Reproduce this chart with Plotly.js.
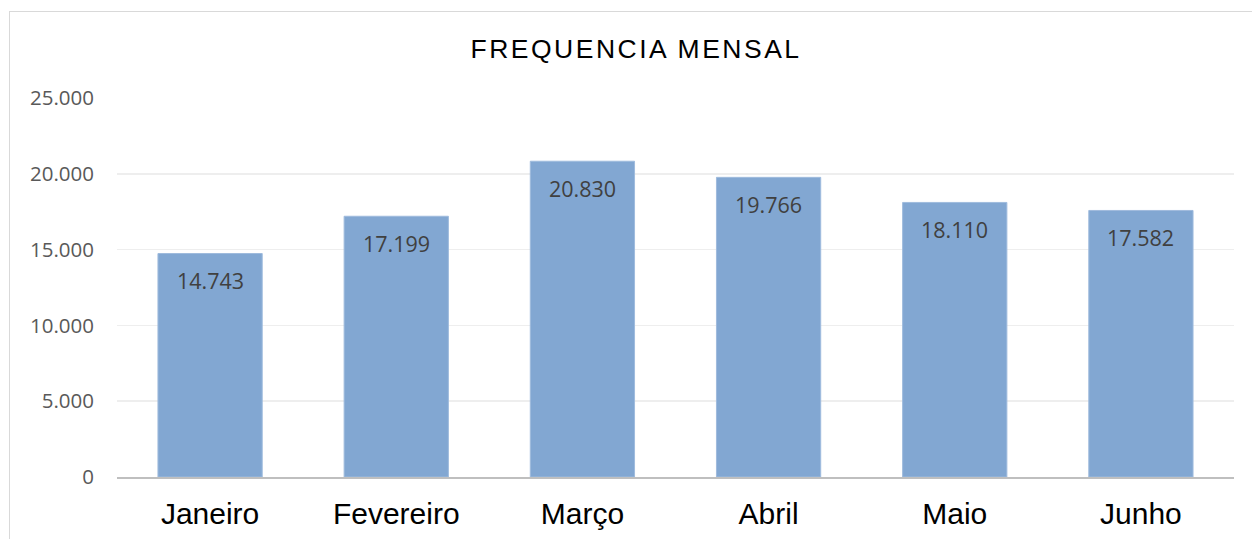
<!DOCTYPE html>
<html><head><meta charset="utf-8">
<script src="https://cdn.plot.ly/plotly-3.0.1.min.js"></script>
<style>
html,body{margin:0;padding:0;overflow:hidden;background:#fff;}
#chart{position:absolute;left:0;top:0;width:1252px;height:539px;}
#frame{position:absolute;left:9px;top:11px;width:1400px;height:700px;border-left:1.5px solid #d9d9d9;border-top:1.5px solid #d9d9d9;pointer-events:none;}
.gtitle{letter-spacing:2.5px;}
</style></head>
<body>
<div id="chart"></div>
<div id="frame"></div>
<script>
const months = ["Janeiro","Fevereiro","Março","Abril","Maio","Junho"];
const frequencia = [14743,17199,20830,19766,18110,17582];
const yTicks = [0,5000,10000,15000,20000,25000];

function fmt(v){ return String(v).replace(/\B(?=(\d{3})+(?!\d))/g,'.'); }

const trace = {
  type:'bar', x:months, y:frequencia,
  marker:{color:'#82a7d2', line:{color:'#9fbbdd', width:1}},
  hoverinfo:'none'
};
const labels = months.map((m,i)=>({
  x:m, y:frequencia[i], xref:'x', yref:'y', text:fmt(frequencia[i]),
  showarrow:false, yanchor:'middle', xanchor:'center', yshift:-27,
  font:{family:'Open Sans, DejaVu Sans, sans-serif', size:21.5, color:'#404040'}
}));
const layout = {
  width:1252, height:539,
  margin:{l:117, r:18, t:98, b:62},
  separators:',.',
  paper_bgcolor:'rgba(0,0,0,0)', plot_bgcolor:'rgba(0,0,0,0)',
  title:{text:'FREQUENCIA MENSAL', x:0.508, xanchor:'center', y:0.91, yanchor:'middle',
    font:{family:'Liberation Sans, Arial, sans-serif', size:26.5, color:'#000'}},
  bargap:0.44,
  showlegend:false,
  annotations:labels,
  xaxis:{showgrid:false, showline:true, linecolor:'#bfbfbf', linewidth:2, ticks:'',
    tickfont:{family:'Liberation Sans, Arial, sans-serif', size:30, color:'#000'},
    ticklabelstandoff:9},
  yaxis:{range:[0,25000], tickvals:yTicks, tickformat:',d', showgrid:true, gridcolor:'#eeeeee', gridwidth:1.5,
    zeroline:false, showline:false, ticks:'',
    tickfont:{family:'Open Sans, DejaVu Sans, sans-serif', size:20.5, color:'#595959'},
    ticklabelstandoff:22}
};
Plotly.newPlot('chart',[trace],layout,{displayModeBar:false, staticPlot:true});
</script>
</body></html>
